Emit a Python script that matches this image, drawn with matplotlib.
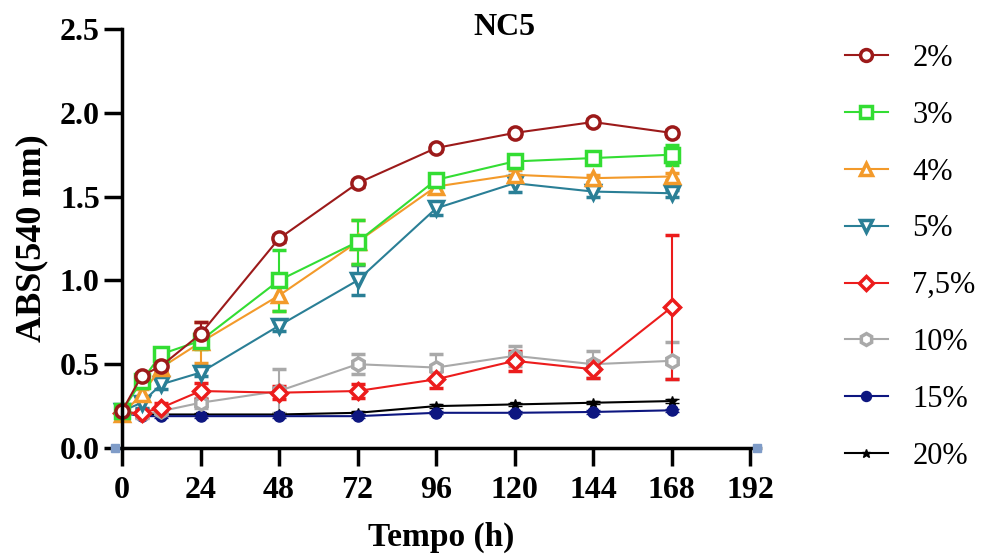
import numpy as np
import matplotlib
matplotlib.use("Agg")
import matplotlib.pyplot as plt
from matplotlib.lines import Line2D

plt.rcParams['font.family'] = ['Liberation Serif', 'DejaVu Serif']

tempo = [0, 6, 12, 24, 48, 72, 96, 120, 144, 168]
labels = ["2%", "3%", "4%", "5%", "7,5%", "10%", "15%", "20%"]

abs_2 = [0.22, 0.43, 0.49, 0.68, 1.25, 1.58, 1.79, 1.88, 1.945, 1.88]
err_2 = [0.02, 0.02, 0.03, 0.07, 0.02, 0.02, 0.02, 0.02, 0.02, 0.02]
abs_3 = [0.22, 0.40, 0.56, 0.64, 1.00, 1.23, 1.60, 1.71, 1.73, 1.75]
err_3 = [0.02, 0.03, 0.03, 0.05, 0.18, 0.13, 0.03, 0.03, 0.03, 0.06]
abs_4 = [0.20, 0.32, 0.48, 0.63, 0.91, 1.23, 1.56, 1.63, 1.61, 1.62]
err_4 = [0.02, 0.03, 0.04, 0.12, 0.09, 0.13, 0.04, 0.03, 0.02, 0.02]
abs_5 = [0.22, 0.27, 0.38, 0.45, 0.73, 1.00, 1.43, 1.58, 1.53, 1.52]
err_5 = [0.02, 0.03, 0.03, 0.02, 0.03, 0.09, 0.04, 0.05, 0.03, 0.02]
abs_75 = [0.21, 0.21, 0.24, 0.34, 0.33, 0.34, 0.41, 0.52, 0.47, 0.84]
err_75 = [0.02, 0.02, 0.03, 0.05, 0.04, 0.04, 0.05, 0.06, 0.05, 0.43]
abs_10 = [0.21, 0.20, 0.22, 0.27, 0.34, 0.50, 0.48, 0.55, 0.50, 0.52]
err_10 = [0.02, 0.02, 0.02, 0.03, 0.13, 0.06, 0.08, 0.06, 0.08, 0.11]
abs_15 = [0.21, 0.19, 0.19, 0.19, 0.19, 0.19, 0.21, 0.21, 0.215, 0.225]
err_15 = [0.01, 0.01, 0.01, 0.01, 0.01, 0.01, 0.01, 0.01, 0.01, 0.01]
abs_20 = [0.22, 0.20, 0.20, 0.20, 0.20, 0.21, 0.25, 0.26, 0.27, 0.28]
err_20 = [0.01, 0.01, 0.01, 0.01, 0.01, 0.01, 0.01, 0.01, 0.01, 0.01]

# little squares at the ends of the x axis
end_x = [-2, 194]
end_y = [0, 0]

series = [abs_2, abs_3, abs_4, abs_5, abs_75, abs_10, abs_15, abs_20]
errors = [err_2, err_3, err_4, err_5, err_75, err_10, err_15, err_20]
colors = ['#9c1a1a', '#33dd33', '#f39a2a', '#2a7f96', '#ec1c1c', '#a9a9a9', '#0d1680', '#000000']
markers = ['o', 's', '^', 'v', 'D', 'h', 'o', '*']
msizes = [9.5, 9.5, 10, 10, 8, 9.5, 8, 7]
filled = [False, False, False, False, False, False, True, True]

fig = plt.figure(figsize=(9.81, 5.6), dpi=100)
ax = fig.add_axes([122/981, 1-448/560, (760-122)/981, (448-29)/560])

handles = [None]*len(series)
for i in range(len(series)-1, -1, -1):
    c = colors[i]
    mfc = c if filled[i] else 'white'
    mew = 1 if filled[i] else 2.5
    ax.errorbar(tempo, series[i], yerr=errors[i], color=c, lw=1.5,
                marker=markers[i], ms=msizes[i], mec=c, mfc=mfc, mew=mew,
                capsize=5, capthick=1.5, elinewidth=1.5, clip_on=False)
    handles[i] = Line2D([], [], color=c, lw=1.5, marker=markers[i], ms=msizes[i]*0.9,
                        mec=c, mfc=mfc, mew=mew)

ax.plot(end_x, end_y, 's', color='#7f9cc8', ms=6, clip_on=False, zorder=5)

ax.set_xlim(0, 195)
ax.set_ylim(0, 2.5)
ax.set_xticks([0, 24, 48, 72, 96, 120, 144, 168, 192])
ax.set_yticks([0, 0.5, 1.0, 1.5, 2.0, 2.5])
ax.set_yticklabels(["0.0", "0.5", "1.0", "1.5", "2.0", "2.5"])
for s in ['top', 'right']:
    ax.spines[s].set_visible(False)
for s in ['left', 'bottom']:
    ax.spines[s].set_linewidth(2.5)
ax.tick_params(width=2.5, length=13, labelsize=23)
ax.tick_params(axis='x', pad=7)
ax.tick_params(axis='y', pad=3)
for lab in ax.get_xticklabels() + ax.get_yticklabels():
    lab.set_fontweight('bold')

ax.set_xlabel("Tempo (h)", fontsize=24, fontweight='bold', labelpad=12)
ax.set_ylabel("ABS(540 nm)", fontsize=26, fontweight='bold', labelpad=8)
fig.text(504/981, 1-27.5/560, "NC5", fontsize=23, fontweight='bold', ha='center', va='center')

fig.legend(handles, labels, loc='upper left', bbox_to_anchor=(845/981, 1-44/560),
           frameon=False, fontsize=22, labelspacing=0.91, handlelength=1.4,
           handletextpad=0.8, borderpad=0, borderaxespad=0)

fig.savefig("out.png", dpi=100)
